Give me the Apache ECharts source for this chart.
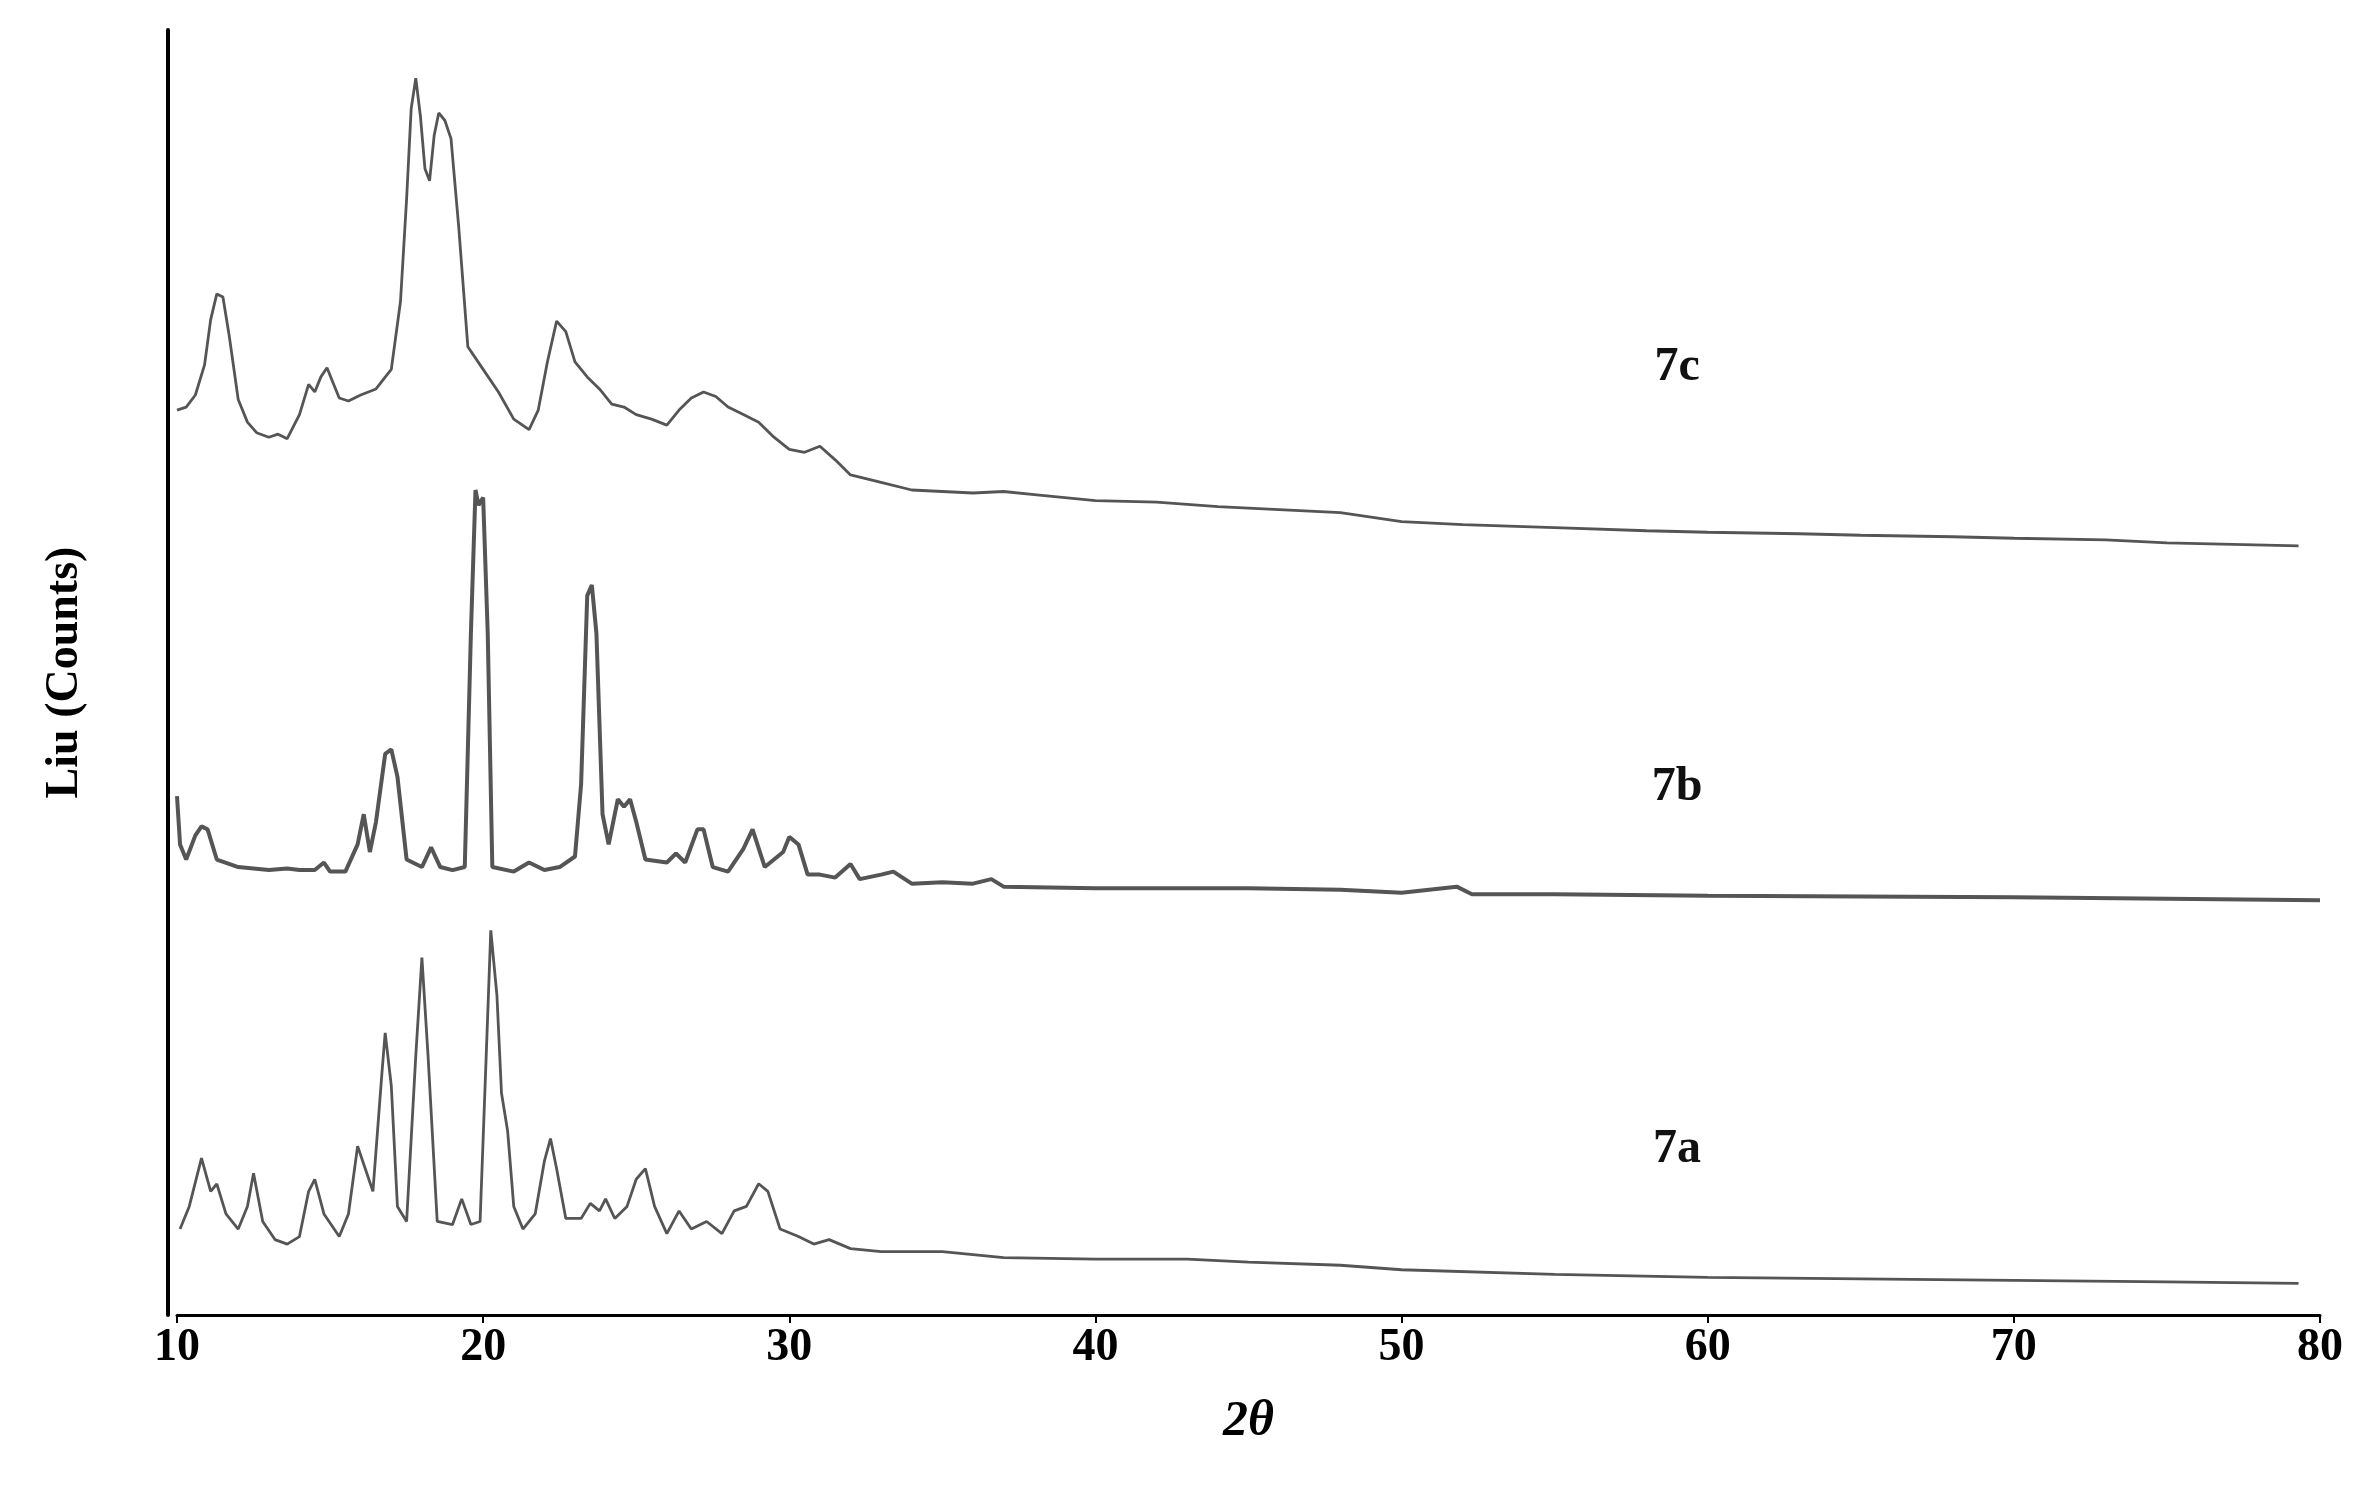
<!DOCTYPE html>
<html><head><meta charset="utf-8">
<script src="https://cdn.jsdelivr.net/npm/echarts@6/dist/echarts.min.js"></script>
<style>html,body{margin:0;padding:0;background:#fff}#c{width:2366px;height:1497px}</style>
</head><body><div id="c"></div>
<script>
const xTicks = [10,20,30,40,50,60,70,80];
// [2theta, counts (arbitrary units)]
const s7c = [[10,600],[10.3,602],[10.6,610],[10.9,630],[11.1,660],[11.3,677],[11.5,675],[11.7,650],[12,607],[12.3,592],[12.6,585],[13,582],[13.3,584],[13.6,581],[14,597],[14.3,617],[14.5,612],[14.7,622],[14.9,628],[15.1,618],[15.3,608],[15.6,606],[16,610],[16.5,614],[17,627],[17.3,672],[17.5,740],[17.65,800],[17.8,820],[17.95,795],[18.1,760],[18.25,752],[18.4,782],[18.55,797],[18.75,792],[18.95,780],[19.2,722],[19.5,642],[20,627],[20.5,612],[21,594],[21.5,587],[21.8,600],[22.1,632],[22.4,659],[22.7,652],[23,632],[23.4,622],[23.8,614],[24.2,604],[24.6,602],[25,597],[25.5,594],[26,590],[26.4,600],[26.8,608],[27.2,612],[27.6,609],[28,602],[28.5,597],[29,592],[29.5,582],[30,574],[30.5,572],[31,576],[31.5,567],[32,557],[33,552],[34,547],[35,546],[36,545],[37,546],[38,544],[40,540],[42,539],[44,536],[46,534],[48,532],[50,526],[52,524],[55,522],[58,520],[60,519],[63,518],[65,517],[68,516],[70,515],[73,514],[75,512],[79.3,510]];
const s7b = [[10,344],[10.1,312],[10.3,302],[10.6,318],[10.8,324],[11,322],[11.3,302],[12,297],[13,295],[13.6,296],[14,295],[14.5,295],[14.8,300],[15,294],[15.5,294],[15.9,312],[16.1,332],[16.3,307],[16.5,327],[16.8,372],[17,375],[17.2,357],[17.5,302],[18,297],[18.3,310],[18.6,297],[19,295],[19.4,297],[19.6,452],[19.75,547],[19.85,537],[20,542],[20.15,452],[20.3,297],[21,294],[21.5,300],[22,295],[22.5,297],[23,304],[23.2,352],[23.4,477],[23.55,484],[23.7,452],[23.9,332],[24.1,312],[24.4,342],[24.6,337],[24.8,342],[25,327],[25.3,302],[26,300],[26.3,306],[26.6,300],[27,322],[27.2,322],[27.5,297],[28,294],[28.5,309],[28.8,322],[29.2,297],[29.8,307],[30,317],[30.3,312],[30.6,292],[31,292],[31.5,290],[32,299],[32.3,289],[33,292],[33.4,294],[34,286],[35,287],[36,286],[36.6,289],[37,284],[40,283],[45,283],[48,282],[50,280],[51.8,284],[52.3,279],[55,279],[60,278],[70,277],[80,275]];
const s7a = [[10.1,57],[10.4,72],[10.8,104],[11.1,82],[11.3,87],[11.6,67],[12,57],[12.3,72],[12.5,94],[12.8,62],[13.2,50],[13.6,47],[14,52],[14.3,82],[14.5,90],[14.8,67],[15.3,52],[15.6,67],[15.9,112],[16.2,94],[16.4,82],[16.7,162],[16.8,187],[17,152],[17.2,72],[17.5,62],[17.8,172],[18,237],[18.2,172],[18.5,62],[19,60],[19.3,77],[19.6,60],[19.9,62],[20.1,172],[20.25,255],[20.45,212],[20.6,147],[20.8,122],[21,72],[21.3,57],[21.7,67],[22,102],[22.2,117],[22.4,97],[22.7,64],[23.2,64],[23.5,74],[23.8,69],[24,77],[24.3,64],[24.7,72],[25,90],[25.3,97],[25.6,72],[26,54],[26.4,69],[26.8,57],[27.3,62],[27.8,54],[28.2,69],[28.6,72],[29,87],[29.3,82],[29.7,57],[30.3,52],[30.8,47],[31.3,50],[32,44],[33,42],[35,42],[37,38],[40,37],[43,37],[45,35],[48,33],[50,30],[55,27],[60,25],[65,24],[70,23],[75,22],[79.3,21]];
const names = ['7c','7b','7a'];
const labelX = 59, labelY = [628, 350, 110];

const chart = echarts.init(document.getElementById('c'));
const serif = '"Liberation Serif","DejaVu Serif",serif';
const mk = (d,w,i) => ({type:'line',data:d,showSymbol:false,symbol:'none',lineStyle:{color:'#555',width:w},z:2,
  markPoint:{symbol:'circle',symbolSize:0,data:[{coord:[labelX,labelY[i]],label:{show:true,formatter:names[i],color:'#111',fontFamily:serif,fontWeight:'bold',fontSize:48}}]}});
chart.setOption({
  animation:false,
  grid:{left:177,right:46,top:30,bottom:182},
  xAxis:{type:'value',min:10,max:80,interval:10,
    axisLine:{lineStyle:{color:'#000',width:3}},axisTick:{show:true,length:8,lineStyle:{color:'#000',width:2}},
    splitLine:{show:false},
    axisLabel:{color:'#000',fontFamily:serif,fontWeight:'bold',fontSize:46,margin:10},
    name:'2θ',nameLocation:'middle',nameGap:82,nameTextStyle:{color:'#000',fontFamily:serif,fontWeight:'bold',fontStyle:'italic',fontSize:50}},
  yAxis:{type:'value',min:0,max:852,offset:9,axisLine:{show:true,lineStyle:{color:'#000',width:4}},axisTick:{show:false},axisLabel:{show:false},splitLine:{show:false},
    name:'Liu (Counts)',nameLocation:'middle',nameGap:80,nameTextStyle:{color:'#000',fontFamily:serif,fontWeight:'bold',fontSize:46}},
  series:[mk(s7c,2.8,0),mk(s7b,4,1),mk(s7a,2.8,2)]
});
</script></body></html>
